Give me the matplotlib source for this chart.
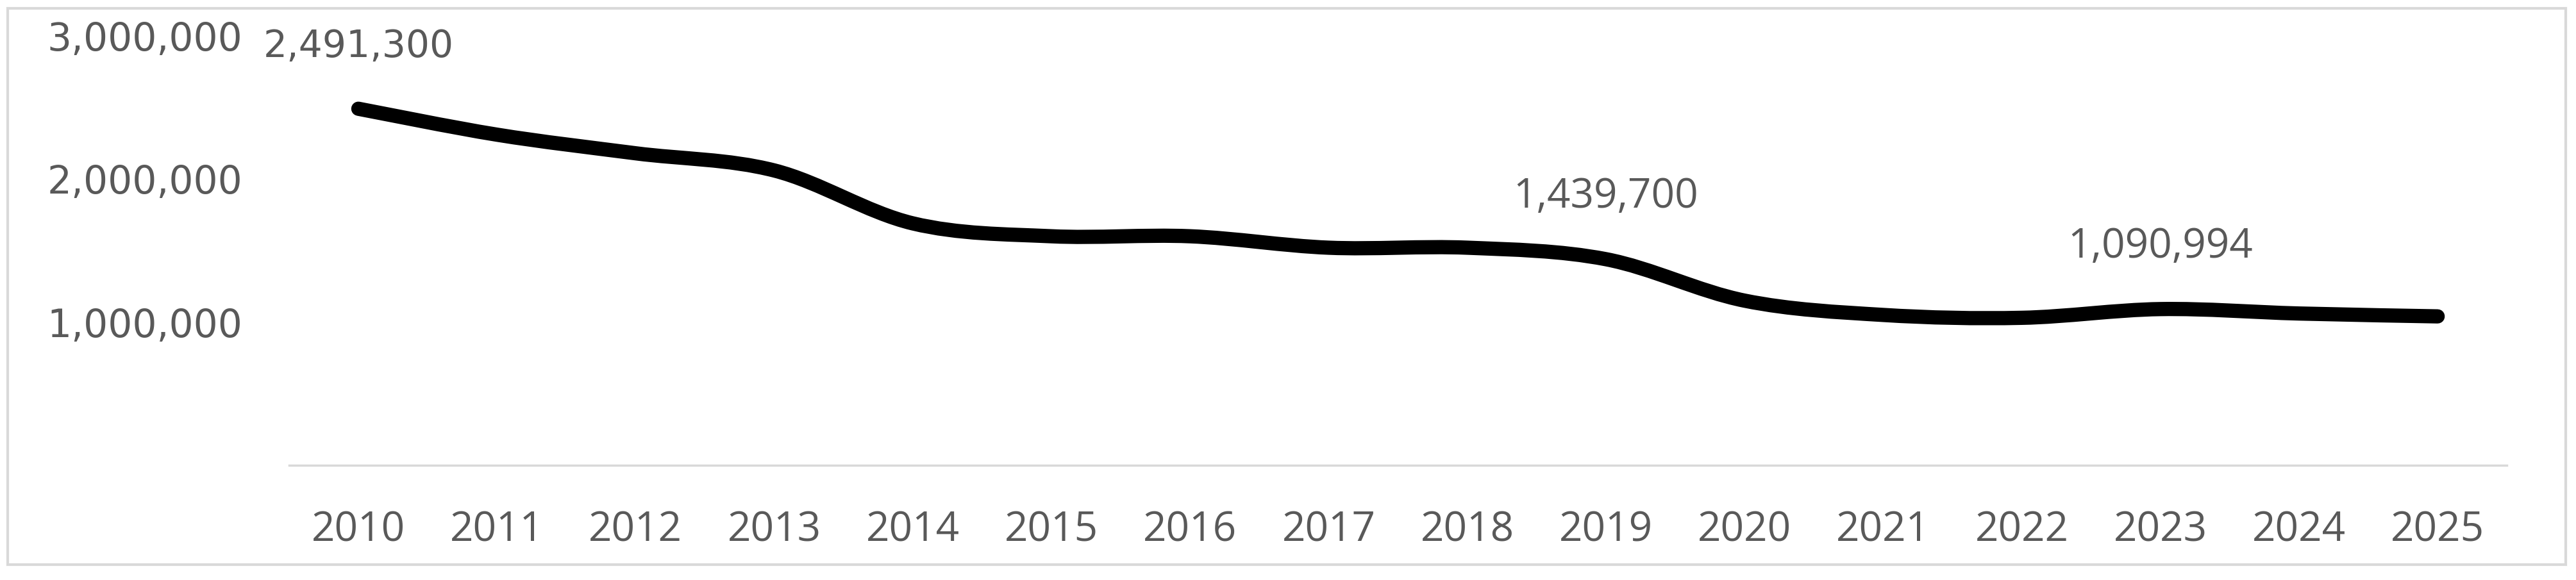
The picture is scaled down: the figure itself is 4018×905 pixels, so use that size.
import matplotlib
matplotlib.use("Agg")
import matplotlib.pyplot as plt
from matplotlib.path import Path
from matplotlib.patches import PathPatch, Rectangle
from matplotlib.ticker import FuncFormatter

years = ["2010", "2011", "2012", "2013", "2014", "2015", "2016", "2017",
         "2018", "2019", "2020", "2021", "2022", "2023", "2024", "2025"]
values = [2491300, 2310000, 2180000, 2060000, 1690000, 1600000, 1600000, 1520000,
          1520000, 1439700, 1150000, 1050000, 1030000, 1090994, 1060000, 1040000]
labelled = {"2010": "2,491,300", "2019": "1,439,700", "2023": "1,090,994"}

GREY = "#595959"

fig = plt.figure(figsize=(40.18, 9.05), dpi=100)
fig.patches.append(Rectangle((0.003, 0.026), 0.993, 0.960, transform=fig.transFigure,
                             fill=False, edgecolor="#d9d9d9", linewidth=3))
ax = fig.add_axes([0.1122, 0.198, 0.861, 0.740])

xs = list(range(len(years)))

# smooth line like Excel (Catmull-Rom converted to Bezier segments)
verts = [(xs[0], values[0])]
codes = [Path.MOVETO]
n = len(xs)
for i in range(n - 1):
    p0 = (xs[max(i - 1, 0)], values[max(i - 1, 0)])
    p1 = (xs[i], values[i])
    p2 = (xs[i + 1], values[i + 1])
    p3 = (xs[min(i + 2, n - 1)], values[min(i + 2, n - 1)])
    c1 = (p1[0] + (p2[0] - p0[0]) / 6, p1[1] + (p2[1] - p0[1]) / 6)
    c2 = (p2[0] - (p3[0] - p1[0]) / 6, p2[1] - (p3[1] - p1[1]) / 6)
    verts += [c1, c2, p2]
    codes += [Path.CURVE4] * 3
patch = PathPatch(Path(verts, codes), facecolor="none", edgecolor="black",
                  linewidth=16, capstyle="round", joinstyle="round")
ax.add_patch(patch)

for i, yr in enumerate(years):
    if yr in labelled:
        fam = "DejaVu Sans" if i == 0 else "Open Sans"
        size = 42 if i == 0 else 46
        ax.annotate(labelled[yr], (xs[i], values[i]), xytext=(0, 70),
                    textcoords="offset points", ha="center", va="center",
                    fontsize=size, color=GREY, family=fam)

ax.set_xlim(-0.5, len(years) - 0.5)
ax.set_ylim(0, 3000000)
ax.set_xticks(xs)
ax.set_xticklabels(years, fontsize=46, color=GREY, family="Open Sans")
ax.set_yticks([1000000, 2000000, 3000000])
ax.yaxis.set_major_formatter(FuncFormatter(lambda v, p: f"{int(v):,}"))
for lb in ax.get_yticklabels():
    lb.set_fontsize(43)
    lb.set_color(GREY)
    lb.set_family("DejaVu Sans")
ax.tick_params(axis="both", length=0)
ax.tick_params(axis="x", pad=50)
ax.tick_params(axis="y", pad=52)

for s in ["top", "right", "left"]:
    ax.spines[s].set_visible(False)
ax.spines["bottom"].set_color("#d9d9d9")
ax.spines["bottom"].set_linewidth(2.5)

fig.savefig("out.png", dpi=100, facecolor="white")
